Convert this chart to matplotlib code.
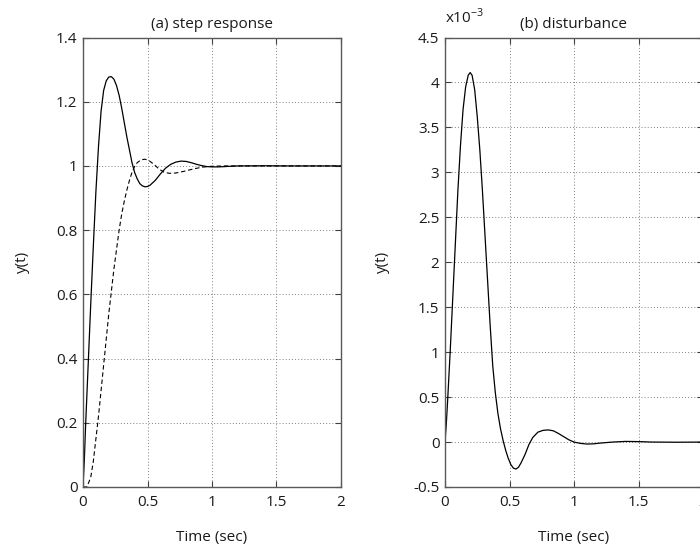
import matplotlib
matplotlib.use('Agg')
import matplotlib.pyplot as plt

plt.rcParams['font.family'] = ['Open Sans', 'DejaVu Sans']
FS = 11

# (a) step response, solid curve
t_solid = [0, 0.01, 0.02, 0.04, 0.06, 0.08, 0.10, 0.12, 0.14, 0.16, 0.18, 0.20,
           0.22, 0.24, 0.26, 0.28, 0.30, 0.32, 0.34, 0.36, 0.38, 0.40, 0.42, 0.44,
           0.46, 0.48, 0.50, 0.52, 0.56, 0.60, 0.64, 0.68, 0.72, 0.76, 0.80, 0.84,
           0.88, 0.92, 0.96, 1.00, 1.05, 1.10, 1.20, 1.40, 1.60, 2.00]
y_solid = [0, 0.08, 0.19, 0.38, 0.57, 0.75, 0.92, 1.06, 1.17, 1.235, 1.265, 1.277,
           1.278, 1.27, 1.25, 1.22, 1.18, 1.135, 1.09, 1.05, 1.01, 0.98, 0.96, 0.945,
           0.938, 0.935, 0.936, 0.94, 0.955, 0.975, 0.993, 1.005, 1.012, 1.015, 1.014, 1.01,
           1.005, 1.001, 0.998, 0.997, 0.997, 0.998, 1.0, 1.0005, 1.0, 1.0]

# (a) step response, dashed curve
t_dash = [0, 0.03, 0.06, 0.08, 0.10, 0.12, 0.14, 0.16, 0.18, 0.20, 0.22, 0.24,
          0.26, 0.28, 0.30, 0.32, 0.34, 0.36, 0.38, 0.40, 0.42, 0.45, 0.48, 0.51,
          0.55, 0.59, 0.63, 0.67, 0.72, 0.78, 0.85, 0.92, 1.00, 1.10, 1.40, 2.00]
y_dash = [0, 0, 0.03, 0.08, 0.15, 0.22, 0.30, 0.38, 0.46, 0.54, 0.61, 0.68,
          0.74, 0.80, 0.85, 0.89, 0.925, 0.955, 0.98, 0.998, 1.01, 1.019, 1.021, 1.017,
          1.005, 0.99, 0.98, 0.977, 0.978, 0.983, 0.99, 0.996, 0.999, 1.0, 1.0, 1.0]

# (b) disturbance response (x10^-3)
t_dist = [0, 0.01, 0.02, 0.04, 0.06, 0.08, 0.10, 0.12, 0.14, 0.16, 0.18, 0.195,
          0.21, 0.23, 0.25, 0.27, 0.29, 0.31, 0.33, 0.35, 0.37, 0.39, 0.41, 0.43,
          0.45, 0.47, 0.49, 0.51, 0.53, 0.55, 0.57, 0.59, 0.62, 0.65, 0.68, 0.72,
          0.76, 0.80, 0.84, 0.88, 0.92, 0.96, 1.00, 1.05, 1.10, 1.15, 1.20, 1.30,
          1.40, 1.50, 1.60, 1.80, 2.00]
y_dist = [0, 0.2, 0.45, 1.0, 1.6, 2.2, 2.8, 3.3, 3.7, 3.95, 4.08, 4.11,
          4.08, 3.92, 3.62, 3.25, 2.8, 2.3, 1.8, 1.3, 0.85, 0.55, 0.32, 0.15,
          0.02, -0.09, -0.18, -0.25, -0.29, -0.30, -0.28, -0.23, -0.14, -0.03, 0.05, 0.11,
          0.13, 0.135, 0.125, 0.095, 0.06, 0.025, 0.0, -0.015, -0.022, -0.02, -0.012, 0.0,
          0.007, 0.005, 0.0, -0.002, 0.0]

x_ticks = [0, 0.5, 1, 1.5, 2]
x_ticklabels = ['0', '0.5', '1', '1.5', '2']
ya_ticks = [0, 0.2, 0.4, 0.6, 0.8, 1, 1.2, 1.4]
ya_ticklabels = ['0', '0.2', '0.4', '0.6', '0.8', '1', '1.2', '1.4']
yb_ticks = [-0.5, 0, 0.5, 1, 1.5, 2, 2.5, 3, 3.5, 4, 4.5]
yb_ticklabels = ['-0.5', '0', '0.5', '1', '1.5', '2', '2.5', '3', '3.5', '4', '4.5']

fig = plt.figure(figsize=(7, 5.47), dpi=100)
W, H = 700, 547
ax1 = fig.add_axes([83 / W, (H - 487) / H, 258 / W, 449.5 / H])
ax2 = fig.add_axes([445 / W, (H - 487) / H, 258 / W, 449.5 / H])


def style(ax, yticks, yticklabels, ylim):
    ax.set_xlim(0, 2)
    ax.set_ylim(*ylim)
    ax.set_xticks(x_ticks)
    ax.set_xticklabels(x_ticklabels)
    ax.set_yticks(yticks)
    ax.set_yticklabels(yticklabels)
    ax.grid(True, linestyle=(0, (1, 2.2)), color='0.5', linewidth=0.7)
    ax.tick_params(direction='in', top=True, right=True, length=4, width=0.8,
                   color='0.25', labelsize=FS, labelcolor='0.1')
    ax.tick_params(axis='x', pad=6)
    ax.tick_params(axis='y', pad=4)
    for s in ax.spines.values():
        s.set_color('0.35')
        s.set_linewidth(1.0)
    ax.set_xlabel('Time (sec)', fontsize=FS, color='0.1')
    ax.set_ylabel('y(t)', fontsize=FS, color='0.1')


ax1.plot(t_solid, y_solid, color='black', linewidth=0.9)
ax1.plot(t_dash, y_dash, color='black', linewidth=0.8, linestyle=(0, (4, 2.5)))
style(ax1, ya_ticks, ya_ticklabels, (0, 1.4))
ax1.set_title('(a) step response', fontsize=FS, pad=7, color='0.1')
ax1.xaxis.set_label_coords(0.5, -0.095)
ax1.yaxis.set_label_coords(-0.205, 0.5)

ax2.plot(t_dist, y_dist, color='black', linewidth=0.9)
style(ax2, yb_ticks, yb_ticklabels, (-0.5, 4.5))
ax2.set_title('(b) disturbance', fontsize=FS, pad=7, color='0.1')
ax2.text(0, 1.0 + 10 / 449.5, r'x10$^{\mathregular{-3}}$', transform=ax2.transAxes,
         fontsize=FS, color='0.1', ha='left', va='bottom')
ax2.xaxis.set_label_coords(0.5, -0.095)
ax2.yaxis.set_label_coords(-0.215, 0.5)

fig.savefig('out.png', dpi=100)
